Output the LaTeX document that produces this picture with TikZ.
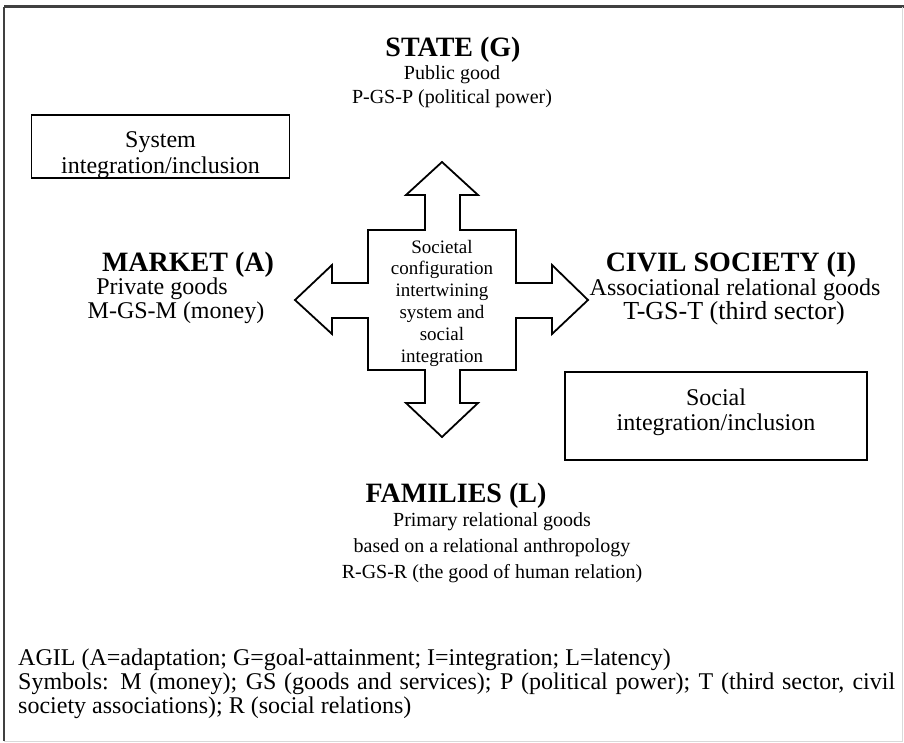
\documentclass[tikz,border=0pt]{standalone}
\usepackage{fontspec}
\setmainfont{Liberation Serif}
\begin{document}
\begin{tikzpicture}[x=1pt,y=-1pt,
  title/.style={font=\fontsize{28}{30}\selectfont\bfseries, anchor=base, inner sep=0pt},
  body/.style={font=\fontsize{24}{25}\selectfont, anchor=base, inner sep=0pt},
  widebody/.style={font=\fontsize{26}{27}\selectfont, anchor=base, inner sep=0pt},
  smallbody/.style={font=\fontsize{20}{22}\selectfont, anchor=base, inner sep=0pt},
  infobox/.style={draw, line width=1.8pt, inner sep=0pt},
  crossarrow/.style={draw, line width=1.8pt, line join=miter, fill=white},
  centertext/.style={font=\fontsize{19}{21.8}\selectfont, align=center, inner sep=0pt},
  footer/.style={font=\fontsize{24}{23.6}\selectfont, text width=877pt, align=justify, inner sep=0pt, anchor=north west}
]
\useasboundingbox (0,0) rectangle (904,743);
% frame
\draw[line width=3pt, black!75] (4,7) -- (904,7);
\draw[line width=2.5pt, black!75] (4,7) -- (4,741);
\draw[line width=0.8pt, black!15] (4,741) -- (902,741) -- (902,7);

% state
\node[title] (state) at (453,57) {STATE (G)};
\node[smallbody] (statel1) at (452,80) {Public good};
\node[smallbody] (statel2) at (452,104) {P-GS-P (political power)};

% system box
\node[infobox, minimum width=258pt, minimum height=63pt] (sysbox) at (160.5,146.5) {};
\node[body] (sys1) at (160.5,148) {System};
\node[body] (sys2) at (160.5,174) {integration/inclusion};

% market
\node[title] (market) at (188,271) {MARKET (A)};
\node[body] (marketl1) at (162,294) {Private goods};
\node[body] (marketl2) at (176,318) {M-GS-M (money)};

% civil society
\node[title] (civil) at (731,271) {CIVIL SOCIETY (I)};
\node[body] (civill1) at (735,295) {Associational relational goods};
\node[widebody] (civill2) at (734,319) {T-GS-T (third sector)};

% social box
\node[infobox, minimum width=302pt, minimum height=88pt] (socbox) at (716,416) {};
\node[body] (soc1) at (716,405) {Social};
\node[body] (soc2) at (716,430) {integration/inclusion};

% families
\node[title] (families) at (456,502) {FAMILIES (L)};
\node[smallbody] (faml1) at (492,526) {Primary relational goods};
\node[smallbody] (faml2) at (492,552) {based on a relational anthropology};
\node[smallbody] (faml3) at (492,578) {R-GS-R (the good of human relation)};

% cross arrow
\draw[crossarrow] (442,162) -- (478,195) -- (460,195) -- (460,230) -- (516,230) -- (516,283)
  -- (552,283) -- (552,265) -- (588,300) -- (552,334) -- (552,318) -- (516,318)
  -- (516,370) -- (460,370) -- (460,403) -- (478,403) -- (442,437) -- (406,403)
  -- (425,403) -- (425,370) -- (368,370) -- (368,318) -- (332,318) -- (332,334)
  -- (295,300) -- (332,265) -- (332,283) -- (368,283) -- (368,230) -- (425,230)
  -- (425,195) -- (406,195) -- cycle;
\node[centertext] (centre) at (442,303) {Societal\\configuration\\intertwining\\system and\\social\\integration};

% footer
\node[footer] (foot) at (18,649) {AGIL (A=adaptation; G=goal-attainment; I=integration; L=latency)\\
Symbols: M (money); GS (goods and services); P (political power); T (third sector, civil society associations); R (social relations)};
\end{tikzpicture}
\end{document}
